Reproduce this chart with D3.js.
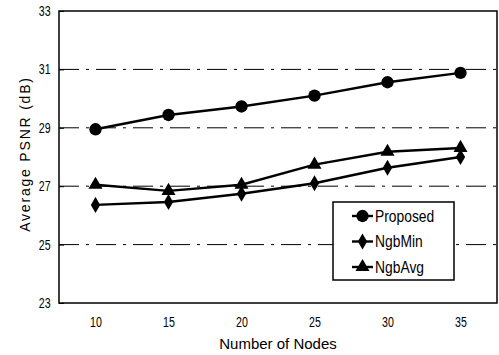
<!DOCTYPE html>
<html>
<head>
<meta charset="utf-8">
<script src="https://cdn.jsdelivr.net/npm/d3@7"></script>
<style>
  body { margin: 0; background: #fff; }
  svg { display: block; }
  .tick text { font-family: "Liberation Sans", Arial, sans-serif; font-size: 14px; }
</style>
</head>
<body>
<svg width="499" height="355"></svg>
<script>
var svg = d3.select("svg"),
    width = +svg.attr("width"),
    height = +svg.attr("height");

var margin = {top: 11, right: 2, bottom: 52, left: 59};

// data
var nodes = [10, 15, 20, 25, 30, 35];
var proposed = [28.95, 29.44, 29.73, 30.10, 30.56, 30.88];
var ngbMin   = [26.36, 26.46, 26.74, 27.10, 27.63, 28.00];
var ngbAvg   = [27.05, 26.84, 27.05, 27.74, 28.18, 28.31];
var yTicks = [23, 25, 27, 29, 31, 33];
var seriesNames = ["Proposed", "NgbMin", "NgbAvg"];

var series = [
  {name: seriesNames[0], values: proposed, symbol: d3.symbolCircle, size: 120},
  {name: seriesNames[1], values: ngbMin, symbol: d3.symbolDiamond, size: 75},
  {name: seriesNames[2], values: ngbAvg, symbol: d3.symbolTriangle, size: 85}
];

var x = d3.scaleLinear().domain([7.5, 37.5]).range([margin.left, width - margin.right]);
var y = d3.scaleLinear().domain([23, 33]).range([height - margin.bottom, margin.top]);

// dash-dot gridlines
svg.append("g")
    .selectAll("line")
    .data(yTicks.filter(function(d) { return d > 23 && d < 33; }))
    .enter().append("line")
      .attr("x1", margin.left)
      .attr("x2", width - margin.right)
      .attr("y1", function(d) { return y(d); })
      .attr("y2", function(d) { return y(d); })
      .attr("stroke", "#000")
      .attr("stroke-width", 1)
      .attr("stroke-dasharray", "20,7,3,7");

// frame
svg.append("rect")
    .attr("x", margin.left)
    .attr("y", margin.top)
    .attr("width", width - margin.right - margin.left)
    .attr("height", height - margin.bottom - margin.top)
    .attr("fill", "none")
    .attr("stroke", "#000")
    .attr("stroke-width", 1.5);

// axes (labels squeezed horizontally to look condensed)
svg.append("g")
    .attr("transform", "translate(" + margin.left + ",0)")
    .call(d3.axisLeft(y).tickValues(yTicks).tickSize(-5).tickPadding(11))
    .call(function(g) { g.select(".domain").remove(); })
    .selectAll(".tick text").attr("transform", "scale(0.76,1)");

svg.append("g")
    .attr("transform", "translate(0," + (height - margin.bottom) + ")")
    .call(d3.axisBottom(x).tickValues(nodes).tickSize(0).tickPadding(14))
    .call(function(g) { g.select(".domain").remove(); })
    .selectAll(".tick text").attr("transform", "scale(0.76,1)");

svg.selectAll(".tick text").attr("fill", "#000");

// lines and markers
var line = d3.line()
    .x(function(d, i) { return x(nodes[i]); })
    .y(function(d) { return y(d); });

series.forEach(function(s) {
  svg.append("path")
      .datum(s.values)
      .attr("d", line)
      .attr("fill", "none")
      .attr("stroke", "#000")
      .attr("stroke-width", 2.4);

  svg.append("g")
    .selectAll("path")
    .data(s.values)
    .enter().append("path")
      .attr("transform", function(d, i) { return "translate(" + x(nodes[i]) + "," + y(d) + ")"; })
      .attr("d", d3.symbol().type(s.symbol).size(s.size))
      .attr("fill", "#000");
});

// legend
var legend = svg.append("g").attr("transform", "translate(333,202)");
legend.append("rect")
    .attr("width", 121)
    .attr("height", 78)
    .attr("fill", "#fff")
    .attr("stroke", "#000")
    .attr("stroke-width", 1.5);

var item = legend.selectAll("g.item")
    .data(series)
    .enter().append("g")
      .attr("class", "item")
      .attr("transform", function(d, i) { return "translate(0," + (14 + i * 25.5) + ")"; });

item.append("line")
    .attr("x1", 19).attr("x2", 40)
    .attr("stroke", "#000").attr("stroke-width", 2.4);
item.append("path")
    .attr("transform", "translate(29.5,0)")
    .attr("d", function(d) { return d3.symbol().type(d.symbol).size(d.size)(); })
    .attr("fill", "#000");
item.append("text")
    .attr("transform", "translate(42,0) scale(0.84,1)")
    .attr("dy", "0.35em")
    .attr("font-family", "'Liberation Sans', Arial, sans-serif")
    .attr("font-size", 16.5)
    .text(function(d) { return d.name; });

// axis titles
svg.append("text")
    .attr("x", (margin.left + width - margin.right) / 2)
    .attr("y", 349)
    .attr("text-anchor", "middle")
    .attr("font-family", "'Liberation Sans', Arial, sans-serif")
    .attr("font-size", 15)
    .text("Number of Nodes");

svg.append("text")
    .attr("transform", "translate(30," + ((margin.top + height - margin.bottom) / 2 - 3) + ") rotate(-90)")
    .attr("text-anchor", "middle")
    .attr("font-family", "'Liberation Sans', Arial, sans-serif")
    .attr("font-size", 14)
    .attr("letter-spacing", "1.8px")
    .text("Average PSNR (dB)");
</script>
</body>
</html>
